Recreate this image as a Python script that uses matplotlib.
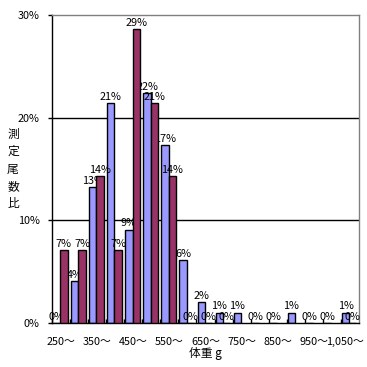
import numpy as np
import matplotlib
matplotlib.use("Agg")
from matplotlib import pyplot as plt
from matplotlib.transforms import ScaledTranslation

plt.rcParams['font.family'] = ['Noto Sans CJK JP', 'DejaVu Sans']

# weight classes (g), one bar pair per class
classes = [250, 300, 350, 400, 450, 500, 550, 600, 650, 700,
           750, 800, 850, 900, 950, 1000, 1050]
blue_vals = [0, 4.1, 13.2, 21.4, 9.1, 22.4, 17.3, 6.1, 2.0, 1.0,
             1.0, 0, 0, 1.0, 0, 0, 1.0]
red_vals = [7.1, 7.1, 14.3, 7.1, 28.6, 21.4, 14.3, 0, 0, 0,
            np.nan, np.nan, np.nan, np.nan, np.nan, np.nan, 0]
tick_labels = ['{:,}～'.format(c) if i % 2 == 0 else '' for i, c in enumerate(classes)]

blue = '#9999FF'
red = '#993366'

fig = plt.figure(figsize=(3.67, 3.67), dpi=100)
ax = fig.add_axes([52 / 367, 44 / 367, 307 / 367, 308 / 367])

x = np.arange(len(classes))
w = 0.40
series = [(blue_vals, blue, -0.24, 2), (red_vals, red, 0.16, 4)]
for vals, col, off, z in series:
    for xi, v in zip(x, vals):
        if np.isnan(v):
            continue
        ax.bar(xi + off, v, width=w, color=col, edgecolor='black',
               linewidth=1.0, zorder=z)
        ax.annotate('{:.0f}%'.format(v), (xi + off, v), xytext=(0, 1),
                    textcoords='offset points', ha='center', va='bottom',
                    fontsize=7.8, zorder=z + 1)

ax.set_xlim(-0.5, len(classes) - 0.5)
ax.set_ylim(0, 30)
for yv in [10, 20]:
    ax.axhline(yv, color='black', linewidth=1.0, zorder=1)

ax.set_yticks([0, 10, 20, 30])
ax.set_yticklabels(['0%', '10%', '20%', '30%'], fontsize=7.8)
ax.tick_params(axis='y', direction='out', length=3, width=1, pad=6)

ax.set_xticks(x - 0.5, minor=False)
ax.set_xticklabels([])
ax.set_xticks(x, minor=True)
ax.set_xticklabels(tick_labels, minor=True, fontsize=7.8)
ax.tick_params(axis='x', which='major', direction='in', length=3, width=1)
ax.tick_params(axis='x', which='minor', length=0, pad=10)
# keep the last class label inside the picture
last = ax.get_xticklabels(minor=True)[-1]
last.set_transform(last.get_transform() + ScaledTranslation(-0.05, 0, fig.dpi_scale_trans))

ax.spines['left'].set_color('black')
ax.spines['bottom'].set_color('black')
ax.spines['top'].set_color('#808080')
ax.spines['right'].set_color('#808080')
for s in ax.spines.values():
    s.set_linewidth(1.0)

ax.set_xlabel('体重 g', fontsize=8.5, labelpad=0)
fig.text(13 / 367, 1 - 169 / 367, '\n'.join('測定尾数比'), ha='center',
         va='center', fontsize=8.5, linespacing=1.45)

plt.savefig('out.png', dpi=100)
